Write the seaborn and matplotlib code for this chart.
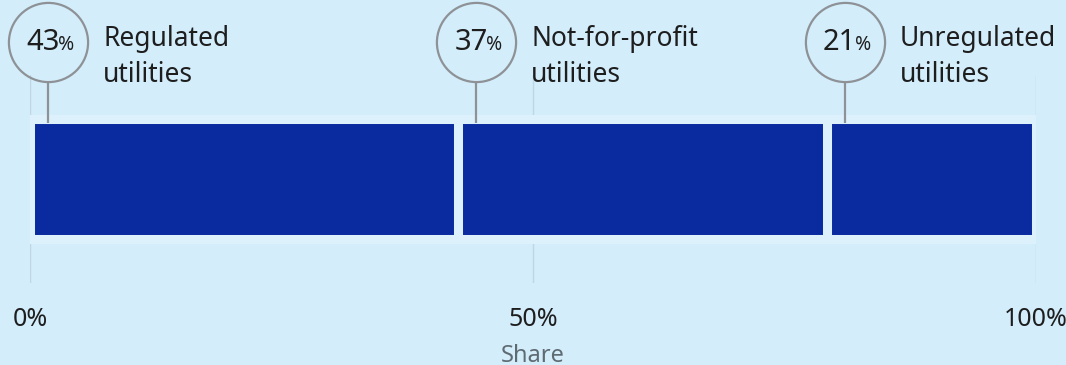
import numpy as np
import pandas as pd
import matplotlib
matplotlib.use("Agg")
import matplotlib.pyplot as plt
import matplotlib.transforms as mtransforms
from matplotlib.offsetbox import TextArea, HPacker, AnnotationBbox
import seaborn as sns

# ---- data ----
segments = ["Regulated\nutilities", "Not-for-profit\nutilities", "Unregulated\nutilities"]
values = [43, 37, 21]
tick_values = [0, 50, 100]
tick_labels = ["0%", "50%", "100%"]
axis_label = "Share"

BG = "#d3edfb"
GAP = "#dcf1fc"
BAR = "#0a2a9f"
GRID = "#bfd7e4"
CIRCLE = "#8e9296"
TXT = "#1e1e1e"

sns.set_theme(style="white")
plt.rcParams["font.family"] = ["Noto Sans", "DejaVu Sans"]

W, H, DPI = 1066, 365, 100
fig = plt.figure(figsize=(W / DPI, H / DPI), dpi=DPI, facecolor=BG)
ax_l, ax_r, ax_top, ax_bot = 30, 1036, 75, 283
ax = fig.add_axes([ax_l / W, 1 - ax_bot / H, (ax_r - ax_l) / W, (ax_bot - ax_top) / H])
ax.set_facecolor(BG)
ax_h_px = ax_bot - ax_top

# normalised shares and cumulative ends
vals = np.array(values, dtype=float)
shares = vals / vals.sum() * 100
ends = np.cumsum(shares)
starts = ends - shares

bar_w = 0.58
# draw cumulative bars, largest first, so each later bar's edge forms the gap
for e in ends[::-1]:
    df = pd.DataFrame({"x": [e], "y": ["all"]})
    sns.barplot(data=df, x="x", y="y", orient="h", color=BAR, width=bar_w,
                edgecolor=GAP, linewidth=6.5, saturation=1, ax=ax, zorder=3)

ax.set_xlim(0, 100)
ax.set_ylim(0.5, -0.5)
ax.set_xticks(tick_values)
ax.set_xticklabels(tick_labels, fontsize=18, color=TXT)
ax.set_yticks([])
ax.set_ylabel("")
ax.set_xlabel(axis_label, fontsize=17, color="#5f6b73", labelpad=9)
ax.tick_params(axis="x", length=0, pad=17)
for s in ax.spines.values():
    s.set_visible(False)
ax.grid(axis="x", color=GRID, linewidth=1, zorder=0)
ax.set_axisbelow(True)

# annotations
blend = mtransforms.blended_transform_factory(ax.transData, ax.transAxes)
bar_top_frac = 0.5 + bar_w / 2 - 4.5 / ax_h_px
circle_off = 18   # px right of segment start
for st, lab, v in zip(starts, segments, values):
    tr = blend + mtransforms.ScaledTranslation(circle_off / DPI, 0, fig.dpi_scale_trans)
    cy = 1 + 33 / ax_h_px
    cbot = 1 - 6 / ax_h_px
    ax.plot([st, st], [bar_top_frac, cbot], transform=tr, color=CIRCLE, lw=1.6,
            clip_on=False, zorder=4, solid_capstyle="butt")
    ax.plot([st], [cy], transform=tr, marker="o", markersize=57, markerfacecolor="none",
            markeredgecolor=CIRCLE, markeredgewidth=1.6, clip_on=False, zorder=4)
    num = TextArea(str(v), textprops=dict(fontsize=21, color=TXT))
    pct = TextArea("%", textprops=dict(fontsize=14, color=TXT, fontweight="bold"))
    pack = HPacker(children=[num, pct], align="baseline", pad=0, sep=-1)
    ab = AnnotationBbox(pack, (st, cy), xycoords=blend,
                        xybox=(circle_off + 2, -1), boxcoords="offset pixels",
                        frameon=False, box_alignment=(0.5, 0.5), annotation_clip=False)
    ax.add_artist(ab)
    ttr = blend + mtransforms.ScaledTranslation((circle_off + 55) / DPI, 0, fig.dpi_scale_trans)
    ax.text(st, 1 + 50 / ax_h_px, lab, transform=ttr, fontsize=19, color=TXT,
            ha="left", va="top", linespacing=1.38, clip_on=False)

fig.savefig("out.png", dpi=DPI, facecolor=BG)
